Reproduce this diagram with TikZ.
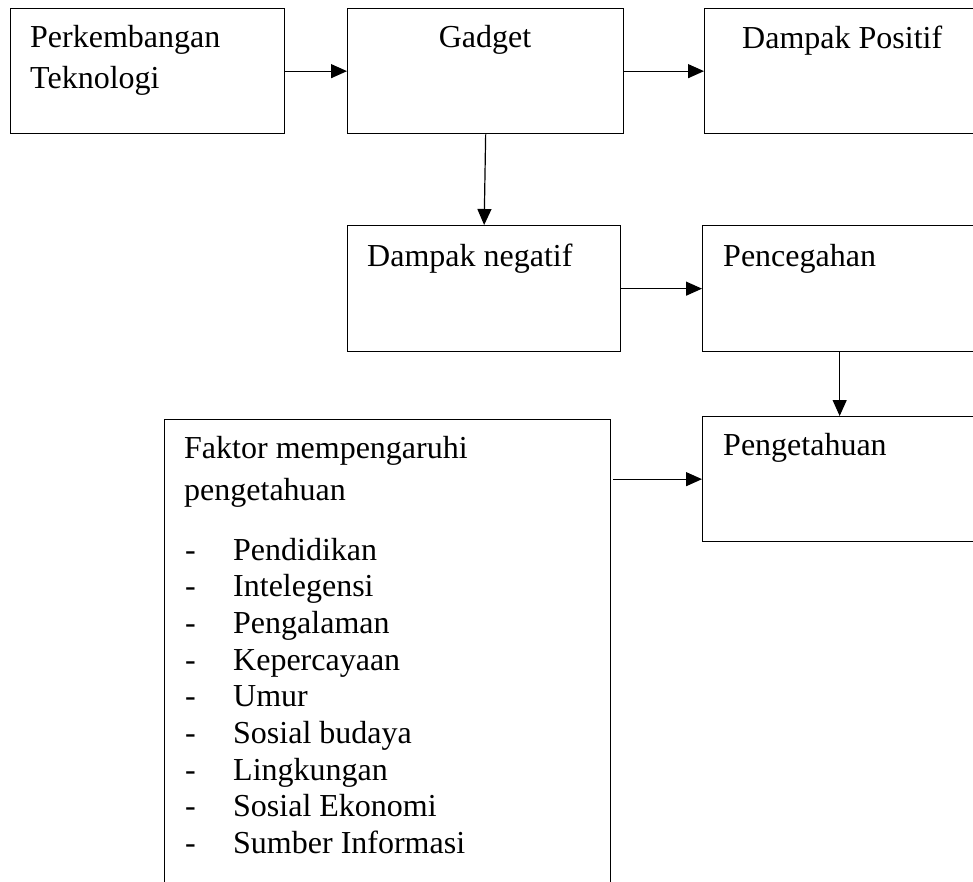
\documentclass[tikz,border=0pt]{standalone}
\usepackage{fontspec}
\setmainfont{Liberation Serif}
\usetikzlibrary{arrows.meta}
\begin{document}
\begin{tikzpicture}[x=1pt,y=-1pt,
  box/.style={draw, line width=1.3pt, rectangle, inner sep=0pt, anchor=north west},
  txt/.style={anchor=base west, inner sep=0pt, font=\fontsize{32}{36.7}\selectfont},
  arr/.style={line width=1.2pt, -{Triangle[length=16pt,width=14pt]}}]
\useasboundingbox (0,0) rectangle (973,881);
\clip (0,0) rectangle (973,881);
% boxes
\node[box, minimum width=274pt, minimum height=125pt] (A) at (10,8) {};
\node[box, minimum width=276pt, minimum height=125pt] (B) at (347,8) {};
\node[box, minimum width=272pt, minimum height=125pt] (C) at (704,8) {};
\node[box, minimum width=273pt, minimum height=126pt] (D) at (347,225) {};
\node[box, minimum width=274pt, minimum height=126pt] (E) at (702,225) {};
\node[box, minimum width=274pt, minimum height=125pt] (F) at (702,416) {};
\node[box, minimum width=446pt, minimum height=480pt] (G) at (164,419) {};
% texts
\node[txt] (tA1) at (30,47) {Perkembangan};
\node[txt] (tA2) at (30,88) {Teknologi};
\node[txt, anchor=base] (tB) at (485,47) {Gadget};
\node[txt] (tC) at (742,48) {Dampak Positif};
\node[txt] (tD) at (367,266) {Dampak negatif};
\node[txt] (tE) at (723,266) {Pencegahan};
\node[txt] (tF) at (723,455) {Pengetahuan};
\node[txt] (tG1) at (184,458) {Faktor mempengaruhi};
\node[txt] (tG2) at (184,500) {pengetahuan};
\foreach \t [count=\i from 0] in {Pendidikan,Intelegensi,Pengalaman,Kepercayaan,Umur,Sosial budaya,Lingkungan,Sosial Ekonomi,Sumber Informasi}{
  \node[txt] (d\i) at (185,560+36.7*\i) {-};
  \node[txt] (l\i) at (233,560+36.7*\i) {\t};
}
% arrows
\draw[arr] (A.east) -- (B.west);
\draw[arr] (B.east) -- (C.west);
\draw[arr] (B.south) -- (D.north);
\draw[arr] (D.east) -- (E.west);
\draw[arr] (E.south) -- (F.north);
\draw[arr] ([xshift=2pt]G.east |- F.west) -- (F.west);
\end{tikzpicture}
\end{document}
